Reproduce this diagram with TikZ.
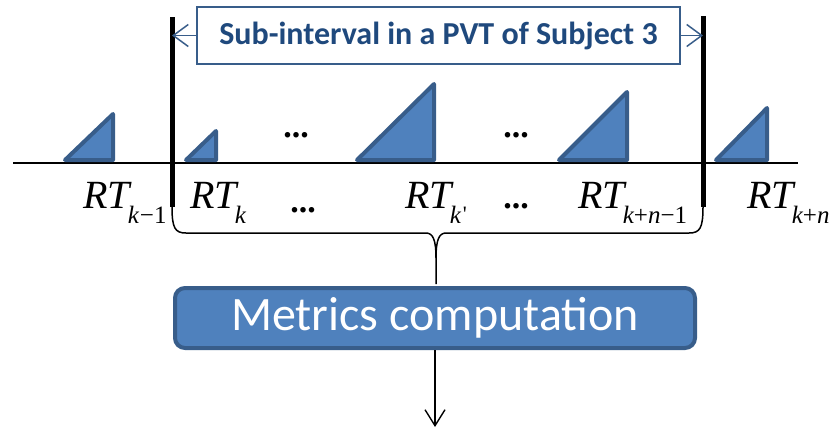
\documentclass[tikz,border=0pt]{standalone}
\usepackage{fontspec}
\setmainfont{Liberation Serif}
\newfontfamily\calib{Carlito}
\usetikzlibrary{arrows.meta}
\definecolor{tri}{HTML}{4F81BD}
\definecolor{triedge}{HTML}{385D8A}
\definecolor{titleblue}{HTML}{1F497D}
\newcommand\rtlab[1]{\fontsize{40}{40}\selectfont\itshape RT\kern-2pt\raisebox{-15pt}{\fontsize{25}{25}\selectfont #1}}
\tikzset{
  rtri/.style={fill=tri,draw=triedge,line width=4pt,line join=round},
  rtlabel/.style={anchor=base west,inner sep=0pt},
  dotsnode/.style={inner sep=0pt,font=\fontsize{34}{34}\selectfont\bfseries},
  bar/.style={line width=5pt},
  tarrow/.style={draw=triedge,line width=1.5pt,-{Straight Barb[length=15pt,width=22pt,line width=1.5pt]}},
  brace/.style={line width=1.5pt,line join=round},
}
\begin{document}
\begin{tikzpicture}[x=1pt,y=-1pt]
\useasboundingbox (0,0) rectangle (837,429);
% timeline
\coordinate (tlA) at (13,163);
\coordinate (tlB) at (798,163);
\draw[line width=1.5pt] (tlA) -- (tlB);
% triangles
\draw[rtri] (65,160) -- (113,160) -- (113,114) -- cycle;
\draw[rtri] (186,160) -- (216,160) -- (216,131) -- cycle;
\draw[rtri] (357,160) -- (434,160) -- (434,84) -- cycle;
\draw[rtri] (559,160) -- (627,160) -- (627,92) -- cycle;
\draw[rtri] (716,160) -- (767,160) -- (767,108) -- cycle;
% bars
\coordinate (barLt) at (172,17);
\coordinate (barLb) at (172,207);
\coordinate (barRt) at (703,16);
\coordinate (barRb) at (703,207);
\draw[bar] (barLt) -- (barLb);
\draw[bar] (barRt) -- (barRb);
% title
\node[draw=triedge,line width=1.8pt,fill=white,minimum width=483pt,minimum height=57pt,inner sep=0pt,
      text=titleblue,font=\calib\bfseries\fontsize{32}{32}\selectfont] (title) at (438.5,35.5)
      {Sub-interval in a PVT of Subject 3};
\draw[tarrow] (title.west) -- (title.west -| barLt);
\draw[tarrow] (title.east) -- (title.east -| barRt);
% dots
\node[dotsnode] (d1) at (296,135) {...};
\node[dotsnode] (d2) at (516,135) {...};
\node[dotsnode] (d3) at (303,210) {...};
\node[dotsnode] (d4) at (516,206) {...};
% labels
\node[rtlabel] (l1) at (83,208) {\rtlab{k\upshape\kern1pt −1}};
\node[rtlabel] (l2) at (190,208) {\rtlab{k}};
\node[rtlabel] (l3) at (405,208) {\rtlab{k\kern2pt\raisebox{2pt}{\upshape\fontsize{22}{22}\selectfont\textquotesingle}}};
\node[rtlabel] (l4) at (578,208) {\rtlab{k\upshape+\itshape n\upshape −1}};
\node[rtlabel] (l5) at (747,208) {\rtlab{k\upshape+\itshape n}};
% metrics box
\node[fill=tri,draw=triedge,line width=4pt,rounded corners=10pt,minimum width=520pt,minimum height=60pt,
      inner sep=0pt,text=white,font=\calib\fontsize{48}{48}\selectfont] (metrics) at (435,318)
      {Metrics computation};
% brace
\coordinate (cusp) at (436,284);
\draw[brace] (barLb) .. controls (172,228) and (175,233) .. (186,233) -- (426,233)
   .. controls (433,233) and (436,240) .. (436,258) -- (cusp);
\draw[brace] (barRb) .. controls (703,228) and (700,233) .. (689,233) -- (446,233)
   .. controls (439,233) and (436,240) .. (436,258);
% output arrow
\coordinate (out) at (435,427);
\draw[line width=1.4pt,-{Straight Barb[length=16pt,width=20pt,line width=1.4pt]}] (metrics.south) -- (out);
\end{tikzpicture}
\end{document}
